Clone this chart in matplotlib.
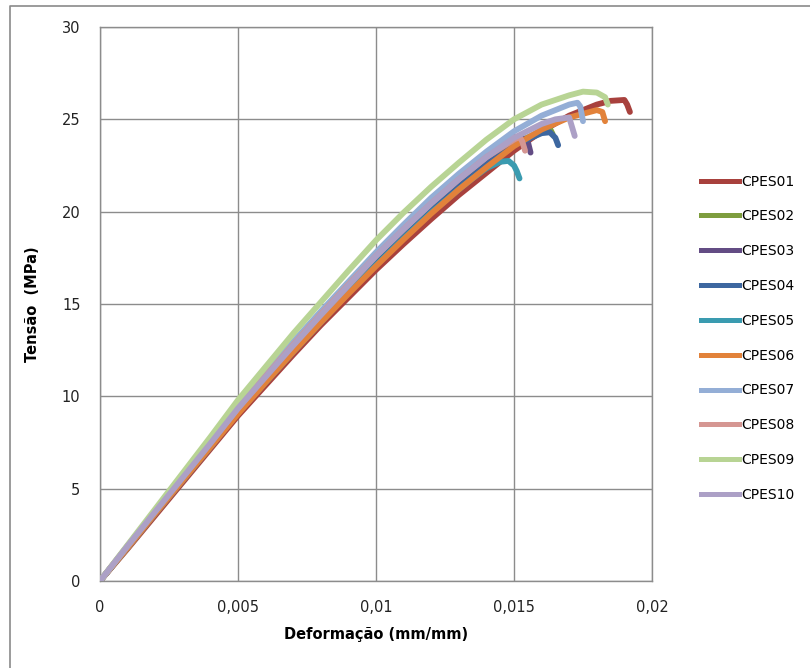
import matplotlib
matplotlib.use("Agg")
import matplotlib.pyplot as plt
from matplotlib.lines import Line2D

# ---- data ----
names = ["CPES01", "CPES02", "CPES03", "CPES04", "CPES05",
         "CPES06", "CPES07", "CPES08", "CPES09", "CPES10"]
colors = ["#A8413D", "#7E9D3E", "#634C84", "#3D67A0", "#3A9BB0",
          "#E2823A", "#94AED6", "#D59692", "#B8D494", "#ACA0C6"]

strain_01 = [0, .001, .002, .003, .004, .005, .006, .007, .008, .009, .010, .011, .012, .013, .014, .015, .016, .017, .018, .0185, .019, .0191, .0192]
stress_01 = [0, 1.75, 3.55, 5.35, 7.15, 8.95, 10.6, 12.25, 13.85, 15.35, 16.85, 18.25, 19.6, 20.9, 22.1, 23.3, 24.35, 25.2, 25.8, 26.0, 26.05, 25.8, 25.4]

strain_02 = [0, .001, .002, .003, .004, .005, .006, .007, .008, .009, .010, .011, .012, .013, .014, .015, .016, .0163, .0164]
stress_02 = [0, 1.85, 3.7, 5.5, 7.3, 9.15, 10.85, 12.5, 14.1, 15.7, 17.25, 18.65, 20.0, 21.3, 22.6, 23.7, 24.35, 24.5, 24.2]

strain_03 = [0, .001, .002, .003, .004, .005, .006, .007, .008, .009, .010, .011, .012, .013, .014, .015, .0153, .0155, .0156]
stress_03 = [0, 1.85, 3.7, 5.5, 7.3, 9.2, 10.9, 12.55, 14.2, 15.8, 17.35, 18.8, 20.2, 21.5, 22.7, 23.75, 24.0, 23.8, 23.2]

strain_04 = [0, .001, .002, .003, .004, .005, .006, .007, .008, .009, .010, .011, .012, .013, .014, .015, .016, .0163, .0165, .0166]
stress_04 = [0, 1.85, 3.7, 5.5, 7.3, 9.15, 10.85, 12.5, 14.1, 15.7, 17.25, 18.7, 20.05, 21.35, 22.55, 23.6, 24.25, 24.3, 24.0, 23.6]

strain_05 = [0, .001, .002, .003, .004, .005, .006, .007, .008, .009, .010, .011, .012, .013, .0135, .014, .0145, .0148, .015, .0151, .0152]
stress_05 = [0, 1.8, 3.65, 5.45, 7.25, 9.1, 10.75, 12.4, 14.0, 15.6, 17.1, 18.55, 19.95, 21.2, 21.8, 22.35, 22.7, 22.75, 22.5, 22.2, 21.8]

strain_06 = [0, .001, .002, .003, .004, .005, .006, .007, .008, .009, .010, .011, .012, .013, .014, .015, .016, .017, .018, .0182, .0183]
stress_06 = [0, 1.8, 3.65, 5.45, 7.25, 9.05, 10.75, 12.4, 14.0, 15.55, 17.05, 18.5, 19.9, 21.2, 22.4, 23.55, 24.45, 25.1, 25.5, 25.4, 24.9]

strain_07 = [0, .001, .002, .003, .004, .005, .006, .007, .008, .009, .010, .011, .012, .013, .014, .015, .016, .017, .0173, .0174, .0175]
stress_07 = [0, 1.9, 3.8, 5.7, 7.6, 9.5, 11.25, 12.95, 14.6, 16.2, 17.8, 19.3, 20.75, 22.05, 23.25, 24.35, 25.2, 25.8, 25.9, 25.7, 24.9]

strain_08 = [0, .001, .002, .003, .004, .005, .006, .007, .008, .009, .010, .011, .012, .013, .014, .015, .0152, .0153, .0154]
stress_08 = [0, 1.9, 3.8, 5.65, 7.5, 9.35, 11.1, 12.8, 14.45, 16.05, 17.6, 19.05, 20.45, 21.75, 22.95, 23.9, 24.05, 23.8, 23.3]

strain_09 = [0, .001, .002, .003, .004, .005, .006, .007, .008, .009, .010, .011, .012, .013, .014, .015, .016, .017, .0175, .018, .0183, .0184]
stress_09 = [0, 1.95, 3.9, 5.85, 7.8, 9.8, 11.6, 13.4, 15.1, 16.8, 18.45, 19.95, 21.35, 22.65, 23.9, 25.0, 25.8, 26.3, 26.5, 26.45, 26.2, 25.8]

strain_10 = [0, .001, .002, .003, .004, .005, .006, .007, .008, .009, .010, .011, .012, .013, .014, .015, .016, .0165, .017, .0171, .0172]
stress_10 = [0, 1.9, 3.75, 5.6, 7.45, 9.35, 11.05, 12.75, 14.4, 16.0, 17.6, 19.05, 20.45, 21.75, 22.95, 24.0, 24.75, 25.0, 25.1, 24.6, 24.1]

strains = [strain_01, strain_02, strain_03, strain_04, strain_05,
           strain_06, strain_07, strain_08, strain_09, strain_10]
stresses = [stress_01, stress_02, stress_03, stress_04, stress_05,
            stress_06, stress_07, stress_08, stress_09, stress_10]

x_ticks = [0, 0.005, 0.01, 0.015, 0.02]
x_tick_labels = ["0", "0,005", "0,01", "0,015", "0,02"]
y_ticks = [0, 5, 10, 15, 20, 25, 30]
y_tick_labels = ["0", "5", "10", "15", "20", "25", "30"]

# ---- figure ----
W, H = 810, 668
fig = plt.figure(figsize=(W / 100, H / 100), dpi=100)
fig.patch.set_facecolor("white")

# outer chart frame (top and left edges visible)
frame = Line2D([10 / W, 10 / W, 1.0], [0.0, 1 - 6 / H, 1 - 6 / H],
               transform=fig.transFigure, color="#8a8a8a", lw=1.2)
fig.add_artist(frame)

ax = fig.add_axes([100 / W, (H - 581) / H, 552 / W, 554 / H])
ax.set_xlim(0, 0.02)
ax.set_ylim(0, 30)

order = [4, 0, 5, 1, 3, 2, 7, 9, 6, 8]
for i in order:
    ax.plot(strains[i], stresses[i], color=colors[i], lw=4.2,
            solid_capstyle="round", solid_joinstyle="round", zorder=3 + i * 0.01)

ax.set_xticks(x_ticks)
ax.set_xticklabels(x_tick_labels)
ax.set_yticks(y_ticks)
ax.set_yticklabels(y_tick_labels)
ax.tick_params(length=0, labelsize=10.5, labelcolor="#222222")
for lab in ax.get_xticklabels() + ax.get_yticklabels():
    lab.set_family("DejaVu Sans")
ax.tick_params(axis="y", pad=14)
ax.tick_params(axis="x", pad=14)

ax.grid(True, color="#8c8c8c", lw=1.0, zorder=0)
ax.set_axisbelow(True)
for s in ax.spines.values():
    s.set_color("#8c8c8c")
    s.set_linewidth(1.0)

ax.set_xlabel("Deformação (mm/mm)", fontsize=10.5, fontweight="bold",
              family="DejaVu Sans", labelpad=8)
ax.set_ylabel("Tensão  (MPa)", fontsize=10.5, fontweight="bold",
              family="DejaVu Sans", labelpad=16)

# legend (entries listed in series order)
handles = [Line2D([0], [0], color=c, lw=3.6) for c in colors]
leg = fig.legend(handles, names, loc="upper left",
                 bbox_to_anchor=(688 / W, 1 - 162 / H),
                 frameon=False, handlelength=2.75,
                 handletextpad=0.2, labelspacing=1.5,
                 prop={"family": "DejaVu Sans", "size": 10})

fig.savefig("out.png", dpi=100, facecolor="white")
